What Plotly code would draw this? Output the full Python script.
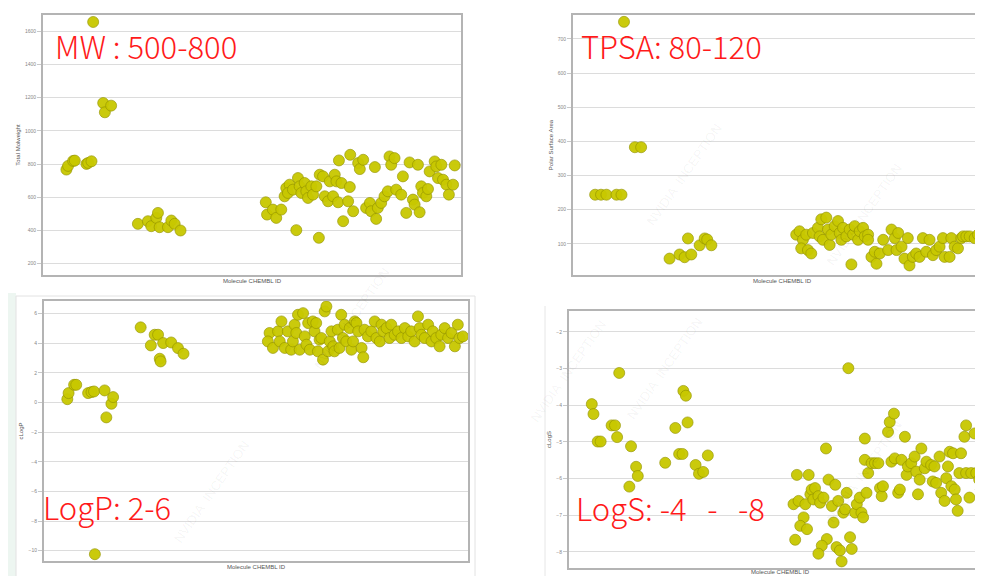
import plotly.graph_objects as go

# ---------------- data (x = molecule index 0-100 along CHEMBL ID axis) ----------------
mw_x = [5.6, 6.0, 7.2, 7.6, 10.4, 10.8, 11.6, 12.0, 14.4, 14.8, 16.3,
        22.7, 25.1, 25.9, 27.1, 27.5, 27.9, 29.9, 30.7, 31.5, 32.9,
        53.3, 53.6, 55.0, 55.8, 57.0, 57.8, 58.2, 59.0, 58.6, 59.8, 61.0, 61.4, 61.8, 62.6, 63.0,
        63.4, 64.2, 64.6, 65.4, 66.2, 67.0, 67.4, 68.2, 68.6, 69.4, 69.8, 70.2, 70.6, 71.4, 70.8,
        73.0, 73.4, 73.5, 74.2, 71.8, 60.6, 66.0, 75.4, 75.8, 76.6, 77.3, 78.2, 78.5, 79.4, 79.7,
        80.1, 80.9, 81.7, 82.5, 82.9, 83.3, 84.1, 84.5, 85.7, 86.1, 86.9, 87.7, 88.5, 88.9, 89.7,
        90.1, 90.5, 90.9, 91.7, 92.1, 92.5, 93.7, 94.1, 94.5, 95.3, 95.7, 96.5, 97.1, 98.1, 98.5]
mw_y = [767, 789, 819, 821, 801, 807, 817, 1656, 1168, 1112, 1152,
        440, 456, 426, 476, 506, 420, 420, 460, 440, 400,
        570, 496, 526, 476, 526, 606, 656, 676, 626, 646, 716, 666, 626, 686, 636,
        596, 666, 616, 666, 736, 726, 606, 576, 696, 606, 736, 696, 570, 686, 822,
        576, 662, 856, 516, 456, 402, 356, 806, 770, 826, 536, 566, 516, 782, 470,
        536, 566, 606, 636, 846, 796, 836, 646, 616, 726, 506, 810, 586, 556, 796,
        510, 666, 626, 606, 650, 756, 816, 786, 716, 796, 706, 676, 616, 676, 792]

tpsa_x = [12.2, 5.3, 6.7, 8.0, 10.4, 11.6, 14.8, 16.3,
          23.1, 25.5, 26.7, 28.3, 27.5, 30.3, 31.5, 32.1, 33.1,
          53.4, 54.2, 55.0, 54.6, 56.2, 57.0, 55.8, 57.4, 58.6, 59.0, 59.4, 60.6, 59.8, 61.0, 61.4,
          61.8, 62.6, 63.4, 63.8, 64.2, 64.6, 65.4, 66.2, 67.0, 67.4, 68.2, 68.6, 69.4, 69.8, 70.6,
          70.6, 71.4, 72.2, 72.6, 73.4, 74.2, 75.4, 76.2, 77.0, 77.4, 77.8, 78.6, 79.3, 80.1, 80.5,
          81.3, 82.1, 82.9, 83.7, 84.5, 85.3, 86.1, 86.9, 87.7, 88.5, 88.9, 90.1, 90.5, 91.3, 92.1,
          92.9, 93.3, 94.1, 94.9, 96.1, 96.9, 97.7, 98.5, 99.3, 66.6]
tpsa_y = [750, 244, 244, 244, 244, 244, 383, 383,
          57, 69, 61, 69, 116, 96, 116, 113, 96,
          127, 137, 112, 87, 82, 72, 127, 132, 147, 122, 172, 177, 112, 142, 97,
          127, 152, 167, 132, 112, 147, 122, 142, 127, 152, 112, 137, 147, 122, 127,
          112, 62, 77, 42, 72, 112, 82, 142, 117, 82, 132, 92, 57, 117, 37,
          62, 72, 62, 117, 77, 112, 67, 82, 92, 117, 62, 62, 117, 92, 87,
          117, 122, 122, 122, 117, 127, 107, 122, 127, 40]

logp_x = [5.5, 5.8, 7.1, 7.6, 10.4, 11.2, 11.8, 14.3, 14.7, 15.9, 16.3, 12.0,
          22.8, 25.2, 26.1, 26.9, 27.3, 27.5, 28.1, 30.0, 31.6, 32.9,
          53.2, 52.8, 54.0, 55.2, 55.6, 56.0, 56.8, 57.5, 58.3, 58.7, 59.1, 59.5, 59.9, 60.3, 61.1,
          61.5, 61.9, 62.3, 62.7, 63.4, 63.8, 64.2, 64.6, 65.0, 65.4, 65.8, 66.2, 66.6, 67.0, 67.4,
          67.8, 68.2, 68.5, 69.3, 69.7, 70.1, 70.5, 70.9, 71.3, 72.1, 72.5, 72.9, 73.3, 73.7, 74.1,
          74.9, 75.3, 75.6, 76.4, 77.2, 78.0, 78.4, 79.2, 79.6, 80.0, 80.8, 81.5, 81.9, 82.7, 83.5,
          84.3, 85.1, 85.9, 86.6, 87.4, 88.2, 88.6, 89.0, 89.8, 90.6, 91.4, 91.7, 92.5, 93.3, 93.7,
          94.5, 95.3, 96.1, 96.9, 97.6, 98.0, 98.8]
logp_y = [0.23, 0.64, 1.20, 1.20, 0.64, 0.71, 0.75, 0.82, -1.00, -0.08, 0.37, -10.24,
          5.08, 3.86, 4.58, 4.58, 2.96, 2.78, 4.02, 4.06, 3.68, 3.30,
          4.70, 4.13, 3.69, 4.81, 4.13, 5.48, 3.69, 4.81, 3.57, 4.13, 5.26, 4.70, 5.93, 3.57, 6.04,
          4.47, 3.91, 5.37, 3.57, 5.48, 4.81, 5.37, 3.46, 4.25, 4.36, 2.90, 6.16, 6.49, 3.46, 4.13,
          4.81, 3.80, 3.46, 4.92, 3.69, 5.93, 4.36, 5.26, 4.13, 5.03, 3.57, 4.13, 5.48, 5.37, 4.81,
          3.69, 3.06, 4.92, 4.47, 4.81, 5.48, 4.36, 4.13, 5.26, 4.81, 5.03, 4.36, 5.26, 4.58, 4.81,
          4.36, 5.03, 4.47, 4.81, 4.13, 5.82, 5.03, 4.58, 4.36, 5.26, 4.13, 4.81, 4.36, 3.80, 4.58,
          5.03, 4.36, 4.70, 3.80, 5.26, 4.36, 4.47]

logs_x = [5.4, 5.8, 6.8, 7.5, 10.1, 10.9, 11.4, 11.9, 14.7, 15.9, 16.3, 14.3,
          22.8, 25.2, 26.1, 26.9, 27.1, 27.7, 28.1, 30.0, 30.8, 31.8, 32.9, 66.2,
          53.2, 54.0, 54.4, 56.0, 56.8, 55.6, 54.8, 56.4, 53.6, 57.2, 57.5, 58.3, 57.9, 59.1, 59.5,
          60.3, 60.9, 61.5, 61.1, 59.9, 59.1, 62.3, 62.7, 63.1, 63.4, 63.8, 64.2, 64.6, 65.0, 65.4,
          65.8, 66.6, 67.0, 67.8, 68.2, 68.9, 69.3, 69.7, 70.1, 70.5, 70.1, 70.9, 71.7, 72.5, 73.3,
          73.7, 74.1, 74.4, 75.6, 76.0, 77.0, 76.4, 77.2, 78.0, 78.4, 78.8, 79.6, 80.0, 80.3, 81.1,
          81.9, 82.3, 82.7, 83.1, 83.5, 84.3, 84.7, 85.8, 86.2, 86.6, 87.0, 87.8, 88.2, 89.0, 89.4,
          89.8, 90.2, 90.6, 91.0, 91.4, 91.7, 92.1, 92.5, 92.9, 93.7, 94.1, 94.1, 94.9, 95.3, 96.1,
          96.5, 97.2, 97.6, 98.4, 98.8, 99.6]
logs_y = [-3.97, -4.24, -4.99, -4.99, -4.55, -4.55, -4.87, -3.12, -5.12, -5.68, -5.93, -6.22,
          -5.57, -4.62, -5.33, -5.33, -3.61, -3.74, -4.47, -5.63, -5.87, -5.82, -5.37, -2.99,
          -6.70, -5.90, -6.61, -6.70, -5.90, -7.06, -7.29, -7.38, -7.67, -6.43, -6.30, -6.26, -6.57,
          -6.48, -6.66, -6.52, -5.18, -6.03, -7.65, -7.83, -8.05, -6.75, -7.20, -6.17, -7.87, -6.61,
          -7.96, -8.26, -6.93, -6.84, -6.39, -7.60, -7.92, -6.93, -6.70, -6.52, -6.93, -7.06, -4.91,
          -6.39, -5.49, -5.85, -5.58, -5.58, -5.58, -6.26, -6.48, -6.21, -4.73, -4.46, -4.23, -5.54,
          -5.45, -6.39, -6.30, -5.49, -4.86, -5.90, -5.67, -5.58, -5.40, -5.81, -6.43, -6.03, -5.18,
          -5.72, -5.54, -5.63, -6.08, -5.67, -6.12, -5.40, -6.39, -6.61, -5.99, -5.67, -5.27, -6.21,
          -5.31, -6.30, -6.57, -6.88, -5.85, -5.31, -4.86, -4.55, -5.85, -6.52, -5.85, -4.77, -5.85,
          -6.03, -6.30, -5.94, -4.82, -6.30]

panel_titles = ["Total Molweight", "Polar Surface Area", "cLogP", "cLogS"]
x_title = "Molecule CHEMBL ID"
labels = ["MW : 500-800", "TPSA: 80-120", "LogP: 2-6",
          "LogS:\u00a0-4\u00a0\u00a0\u00a0-\u00a0\u00a0\u00a0-8"]
y_ranges = [[132, 1698], [9, 770], [-10.7, 6.86], [-8.44, -1.43]]
y_ticks = [list(range(200, 1601, 200)), list(range(100, 701, 100)),
           list(range(-10, 7, 2)), list(range(-8, -1, 1))]

# ---------------- layout geometry ----------------
W, H = 983, 576
boxes = [(35, 453, 7, 267), (565, 983, 7, 267), (36, 460, 293, 553), (561, 983, 303, 560)]
x_standoffs = [3, 3, 3, 1]

fig = go.Figure()
series = [(mw_x, mw_y), (tpsa_x, tpsa_y), (logp_x, logp_y), (logs_x, logs_y)]
for i, (xs, ys) in enumerate(series):
    sfx = "" if i == 0 else str(i + 1)
    fig.add_trace(go.Scatter(
        x=xs, y=ys, mode="markers", xaxis="x" + sfx, yaxis="y" + sfx,
        marker=dict(size=11, color="rgb(200,200,0)", opacity=0.95,
                    line=dict(width=1, color="rgba(150,150,0,0.7)")),
        showlegend=False, hoverinfo="skip"))

lay = dict(width=W, height=H, margin=dict(l=0, r=0, t=0, b=0),
           paper_bgcolor="white", plot_bgcolor="white", showlegend=False)
for i, (x0, x1, y0, y1) in enumerate(boxes):
    sfx = "" if i == 0 else str(i + 1)
    right_cut = x1 >= 983
    lay["xaxis" + sfx] = dict(
        domain=[x0 / W, x1 / W], range=[0, 100], showticklabels=False, showgrid=False,
        zeroline=False, showline=True, linecolor="#b4b4b4", linewidth=2, mirror=True,
        ticks="", anchor="y" + sfx, fixedrange=True,
        title=dict(text=x_title, font=dict(size=6, color="#555", family="Arial"),
                   standoff=x_standoffs[i]))
    lay["yaxis" + sfx] = dict(
        domain=[1 - y1 / H, 1 - y0 / H], range=y_ranges[i], tickvals=y_ticks[i],
        showgrid=True, gridcolor="#dcdcdc", gridwidth=1.2, zeroline=False,
        showline=True, linecolor="#b4b4b4", linewidth=2, mirror=not right_cut,
        ticks="outside", ticklen=4, tickcolor="#c8c8c8",
        tickfont=dict(size=5, color="#888", family="Arial"), anchor="x" + sfx, fixedrange=True,
        title=dict(text=panel_titles[i], font=dict(size=6, color="#555", family="Arial"), standoff=4))
fig.update_layout(**lay)

# red annotations
ann_pos = [(45, 38), (571, 38), (33, 498), (566, 499)]
for (px, py), t in zip(ann_pos, labels):
    fig.add_annotation(x=px / W, y=1 - py / H, xref="paper", yref="paper", text=t,
                       showarrow=False, xanchor="left", yanchor="middle",
                       font=dict(size=31, color="#ff1a1a", family="Noto Sans CJK SC", weight=300))

# faint watermarks
for (px, py) in [(900, 150), (720, 110), (300, 310), (160, 540), (560, 420), (900, 520), (700, 360)]:
    fig.add_annotation(x=px / W, y=1 - py / H, xref="paper", yref="paper",
                       text="NVIDIA  INCEPTION", showarrow=False, textangle=-55,
                       font=dict(size=13, color="rgba(0,0,0,0.05)", family="Arial"))

# outer panel frames / background tint
fig.add_shape(type="rect", xref="paper", yref="paper", x0=0, x1=8 / W, y0=0, y1=1 - 285 / H,
              fillcolor="#edf6f1", line=dict(width=0), layer="below")
fig.add_shape(type="rect", xref="paper", yref="paper", x0=8 / W, x1=467 / W, y0=0, y1=1 - 288 / H,
              fillcolor="rgba(0,0,0,0)", line=dict(width=1, color="#e2e2e2"), layer="below")
fig.add_shape(type="line", xref="paper", yref="paper", x0=537 / W, x1=537 / W, y0=0, y1=1 - 298 / H,
              line=dict(width=1, color="#e6e6e6"), layer="below")

fig.write_html("out.html")
